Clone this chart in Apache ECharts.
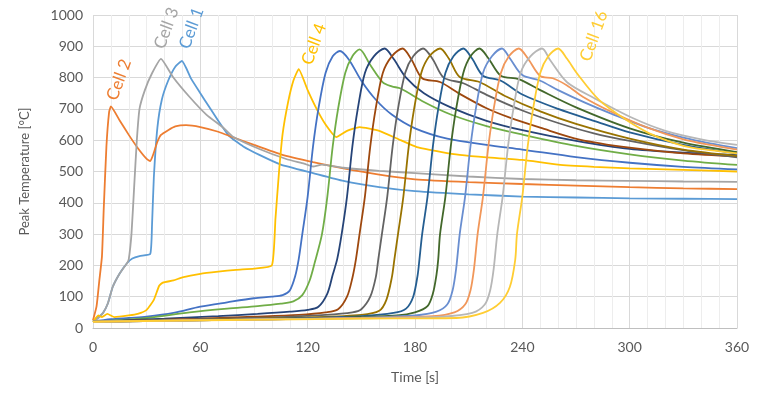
<!DOCTYPE html>
<html>
<head>
<meta charset="utf-8">
<script src="https://cdn.jsdelivr.net/npm/echarts@6/dist/echarts.min.js"></script>
<style>
  html, body { margin: 0; padding: 0; background: #fff; }
  #chart { width: 762px; height: 393px; }
</style>
</head>
<body>
<div id="chart"></div>
<script>
// cell names and colours (Excel palette)
var cellNames = ['Cell 1','Cell 2','Cell 3','Cell 4','Cell 5','Cell 6','Cell 7','Cell 8',
                 'Cell 9','Cell 10','Cell 11','Cell 12','Cell 13','Cell 14','Cell 15','Cell 16'];
var cellColors = ['#5B9BD5','#ED7D31','#A5A5A5','#FFC000','#4472C4','#70AD47','#264478','#9E480E',
                  '#636363','#997300','#255E91','#43682B','#698ED0','#F1975A','#B7B7B7','#FFCD33'];

// [time s, peak temperature °C]
var cell1 = [[0,20],[3,35],[5.6,48],[8.4,80],[11,131],[15,175],[19,207],[22,222],[26,230],[32,237],[33,330],[34,480],[36,640],[38.5,730],[42,790],[46,835],[49.7,853],[55,795],[60,750],[65,706],[70,662],[76,614],[84,580],[93,553],[105,522],[123,495],[140,470],[160,450],[180,437],[210,427],[240,420],[270,417],[300,414],[330,413],[360,412]];
var cell2 = [[0,25],[2,70],[3.5,150],[5,228],[6,380],[7.5,580],[9,690],[10,708],[15,662],[20,617],[25,575],[30,540],[32,533],[34,560],[36,595],[38,617],[42,632],[46,644],[52,648],[60,642],[70,627],[78,610],[90,585],[105,555],[123,530],[140,510],[160,490],[180,475],[210,466],[240,460],[270,455],[300,450],[330,446],[360,444]];
var cell3 = [[0,20],[3,32],[5.6,48],[8.4,80],[11,131],[15,175],[19,207],[20,220],[21.5,300],[23,450],[24.5,600],[26,700],[29,760],[33,814],[38,860],[44.7,802],[54,738],[63.5,681],[73,639],[78,612],[93,572],[108,540],[118,525],[123,516],[128,522],[140,512],[160,502],[180,495],[210,484],[240,476],[270,472],[300,470],[330,468],[360,467]];
var cell4 = [[0,20],[3,40],[5,35],[8,45],[12,35],[20,40],[25,45],[30,58],[34,90],[37,135],[39,145],[45,152],[50,162],[60,173],[70,180],[80,186],[90,190],[100,200],[102,350],[104,500],[106,620],[109,720],[112,790],[115,827],[120,760],[125,700],[130,650],[136,610],[142,630],[149,642],[160,630],[172,600],[181,578],[195,562],[205,553],[220,545],[240,537],[260,522],[280,515],[300,510],[330,505],[360,500]];
var cell5 = [[0,20],[10,28],[20,32],[30,36],[45,48],[60,68],[75,82],[90,95],[100,100],[106,105],[110,120],[113,165],[115,220],[117,300],[120,420],[123,580],[126,700],[130,815],[134,868],[138,885],[143,858],[150,790],[158,730],[167,682],[180,638],[198,605],[220,585],[240,570],[270,546],[300,528],[330,515],[360,507]];
var cell6 = [[0,20],[15,25],[30,32],[54,50],[75,62],[92,70],[105,78],[112,85],[117,105],[121,150],[124,210],[128,300],[131,420],[134,580],[137,700],[141,815],[145,868],[149,890],[155,840],[162,785],[167,772],[172,765],[185,722],[200,682],[220,645],[240,618],[270,582],[300,555],[330,535],[360,521]];
var cell7 = [[0,20],[20,25],[40,30],[70,38],[92,45],[110,52],[120,58],[126,68],[131,110],[134,170],[136.5,220],[139,300],[142,420],[145,580],[148,700],[152,815],[157,868],[163,893],[168,860],[175,800],[185,750],[200,705],[220,662],[240,632],[270,598],[300,572],[330,560],[360,552]];
var cell8 = [[0,20],[30,25],[60,30],[90,36],[115,42],[130,50],[137,60],[142,100],[145,160],[147,220],[149,300],[152,420],[155,580],[158,700],[162,815],[167,868],[173,893],[178,858],[184,798],[194,786],[205,748],[220,702],[233,672],[250,640],[272,602],[300,576],[330,558],[360,548]];
var cell9 = [[0,20],[30,24],[60,28],[100,34],[130,42],[145,50],[150,60],[155,100],[158,160],[159.5,220],[161.5,300],[164.5,420],[167.5,580],[170.5,700],[174.5,815],[179,868],[184.5,893],[190,858],[196,800],[207,782],[220,745],[240,695],[260,655],[280,622],[300,598],[330,568],[360,545]];
var cell10 = [[0,20],[40,24],[80,28],[120,34],[150,42],[160,55],[164,90],[167,160],[168.5,220],[170.5,300],[173.5,420],[176.5,580],[179.5,700],[183.5,815],[188,868],[194,893],[199,860],[205,802],[216,786],[230,742],[250,692],[270,652],[300,605],[330,570],[360,550]];
var cell11 = [[0,20],[40,24],[80,27],[120,32],[150,38],[168,48],[175,62],[179,100],[181.5,170],[182.5,220],[184,300],[187,420],[190,580],[193,700],[197,815],[201.5,868],[207,893],[212,860],[218,806],[228,790],[240,746],[260,700],[280,662],[300,625],[330,585],[360,558]];
var cell12 = [[0,20],[50,24],[100,28],[140,33],[170,40],[180,50],[187,70],[190,110],[192,170],[193,220],[194,300],[197,420],[200,580],[203,700],[207,815],[211,868],[216,893],[221,862],[228,806],[238,795],[250,760],[270,705],[300,638],[330,592],[360,562]];
var cell13 = [[0,20],[50,24],[100,28],[150,33],[180,40],[192,52],[198,75],[201,120],[203,190],[205,300],[208,420],[211,580],[214,700],[218,815],[223,868],[228.6,893],[233,862],[240,808],[250,790],[260,760],[275,720],[290,684],[310,640],[330,608],[345,590],[360,575]];
var cell14 = [[0,20],[50,24],[100,28],[150,32],[190,38],[202,50],[208,75],[211,120],[213,190],[215,300],[218,420],[221,580],[224,700],[228,815],[232.5,868],[238,893],[243,862],[250,805],[257,798],[265,775],[274,738],[290,690],[310,640],[330,603],[345,585],[360,570]];
var cell15 = [[0,20],[50,24],[100,28],[150,31],[195,36],[212,48],[219,75],[222,120],[224,190],[226,300],[229,420],[232,580],[235,700],[239,815],[244.5,868],[251,893],[255.5,856],[265,785],[280,735],[302,670],[320,630],[340,603],[360,585]];
var cell16 = [[0,20],[50,24],[100,27],[150,30],[203,32],[218,48],[227.5,80],[233,131],[236,217],[237,300],[240,420],[243,580],[246,700],[250,815],[254.5,868],[260,893],[265,860],[270.5,814],[283,728],[298,665],[311,622],[330,582],[345,568],[360,558]];

var cellData = [cell1,cell2,cell3,cell4,cell5,cell6,cell7,cell8,cell9,cell10,cell11,cell12,cell13,cell14,cell15,cell16];

// in-plot labels: [series index, time, temperature]
var labelCells = [[1, 14.5, 793], [2, 41, 958], [0, 55, 958], [3, 123.5, 907], [15, 280, 933]];

var labelFont = 'Lato, "Open Sans", sans-serif';

var series = cellData.map(function (d, i) {
  var marks = labelCells.filter(function (l) { return l[0] === i; }).map(function (l) {
    return { coord: [l[1], l[2]] };
  });
  return {
    name: cellNames[i],
    type: 'line',
    xAxisIndex: 0,
    data: d,
    showSymbol: false,
    smooth: i < 4 ? 0.15 : 0.3,
    lineStyle: { width: 1.8, color: cellColors[i] },
    itemStyle: { color: cellColors[i] },
    markPoint: marks.length ? {
      symbol: 'circle',
      symbolSize: 1,
      itemStyle: { color: 'rgba(0,0,0,0)' },
      label: {
        show: true,
        formatter: cellNames[i],
        rotate: 70,
        position: 'inside',
        color: cellColors[i],
        fontSize: 17,
        fontFamily: labelFont
      },
      data: marks
    } : undefined
  };
});

var chart = echarts.init(document.getElementById('chart'));
chart.setOption({
  animation: false,
  grid: { left: 93, right: 25, top: 15, bottom: 65 },
  xAxis: [{
    type: 'value',
    min: 0, max: 360, interval: 60,
    name: 'Time [s]',
    nameLocation: 'middle',
    nameGap: 42,
    nameTextStyle: { color: '#595959', fontSize: 14, fontFamily: labelFont },
    axisLine: { show: true, lineStyle: { color: '#bfbfbf' } },
    axisTick: { show: false },
    axisLabel: { color: '#595959', fontSize: 14, fontFamily: labelFont, margin: 12 },
    splitLine: { show: true, lineStyle: { color: '#d9d9d9' } },
    z: 2
  }, {
    // minor vertical gridlines every 10 s
    type: 'value',
    position: 'bottom',
    min: 0, max: 360, interval: 10,
    axisLine: { show: false },
    axisTick: { show: false },
    axisLabel: { show: false },
    splitLine: { show: true, lineStyle: { color: '#ededed' } },
    z: 1
  }],
  yAxis: {
    type: 'value',
    min: 0, max: 1000, interval: 100,
    name: 'Peak Temperature [°C]',
    nameLocation: 'middle',
    nameGap: 62,
    nameTextStyle: { color: '#595959', fontSize: 13, fontFamily: labelFont },
    axisLine: { show: false },
    axisTick: { show: false },
    axisLabel: { color: '#595959', fontSize: 14, fontFamily: labelFont, margin: 10,
                 formatter: function (v) { return String(v); } },
    splitLine: { show: true, lineStyle: { color: '#d9d9d9' } }
  },
  series: series
});
</script>
</body>
</html>
